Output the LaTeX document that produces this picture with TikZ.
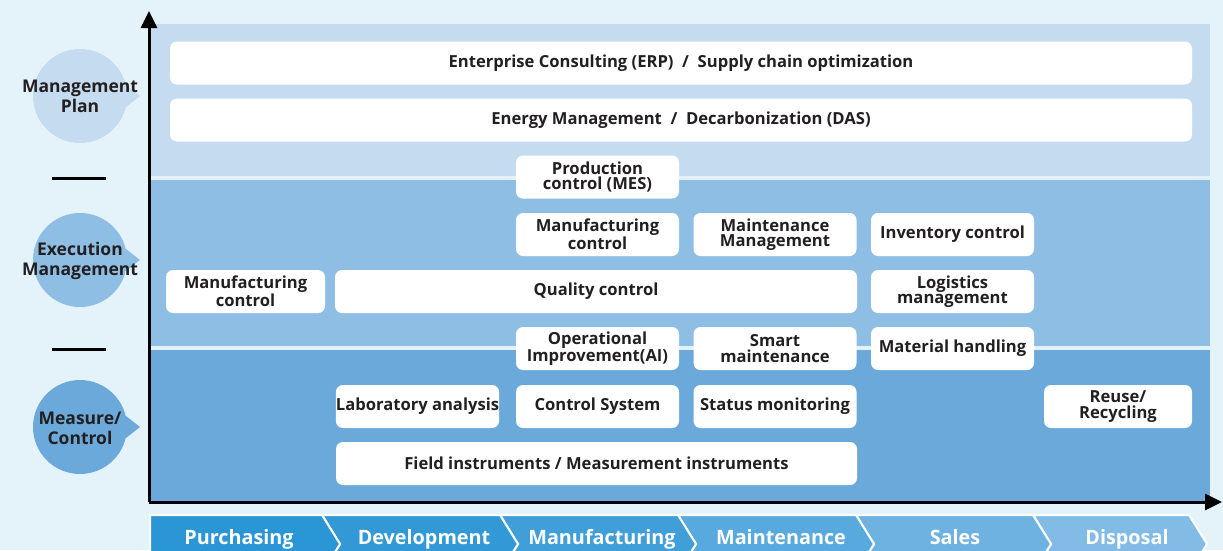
\documentclass[tikz,border=0pt]{standalone}
\usepackage{fontspec}
\setmainfont{Open Sans}
\usetikzlibrary{arrows.meta}

\definecolor{bgcol}{HTML}{E4F2FA}
\definecolor{plancol}{HTML}{C5DCF0}
\definecolor{execcol}{HTML}{8FBEE5}
\definecolor{meascol}{HTML}{6BA9DA}
\definecolor{sepcol}{HTML}{E3F1FA}
\definecolor{txtcol}{HTML}{231F20}
\definecolor{chevA}{HTML}{2B96D5}
\definecolor{chevB}{HTML}{3399D6}
\definecolor{chevC}{HTML}{409FD9}
\definecolor{chevD}{HTML}{58A9DD}
\definecolor{chevE}{HTML}{6EB2E1}
\definecolor{chevF}{HTML}{82BCE6}

\tikzset{
  box/.style={fill=white, rounded corners=7pt, minimum height=43pt, inner sep=0pt,
    align=center, text=txtcol, font=\bfseries\fontsize{16.6}{15.5}\selectfont},
  level/.style={align=center, text=txtcol, font=\bfseries\fontsize{17.5}{20}\selectfont},
  stage/.style={text=white, anchor=base, font=\bfseries\fontsize{19.8}{21}\selectfont},
  chev/.style={draw=white, line width=2pt}
}

\begin{document}
\begin{tikzpicture}[x=1pt, y=-1pt]
   \useasboundingbox (0,0) rectangle (1223,550);
   \clip (0,0) rectangle (1223,550);
   \fill[bgcol] (0,0) rectangle (1223,550);

   % three bands
   \fill[plancol] (150,24) rectangle (1210,176);
   \fill[execcol] (150,180) rectangle (1210,346);
   \fill[meascol] (150,350) rectangle (1210,502);
   \fill[sepcol] (150,176) rectangle (1210,180);
   \fill[sepcol] (150,346) rectangle (1210,350);

   % levels on the left
   \fill[plancol] (80,96) circle (47) (126,85) -- (140,96) -- (126,107) -- cycle;
   \node[level] (plan) at (80,96) {Management\\Plan};
   \draw[line width=3pt] (52,178) -- (106,178);
   \fill[execcol] (80,260) circle (47) (126,249) -- (140,260) -- (126,271) -- cycle;
   \node[level] (exec) at (80,261) {Execution\\Management};
   \draw[line width=3pt] (52,349) -- (106,349);
   \fill[meascol] (80,427) circle (47) (126,416) -- (140,427) -- (126,438) -- cycle;
   \node[level] (meas) at (80,428) {Measure/\\Control};

   % axes
   \coordinate (origin) at (149,502);
   \coordinate (ytip) at (149,11);
   \coordinate (xtip) at (1222,502);
   \draw[line width=3pt, -{Triangle[length=17pt,width=16pt]}] (origin) -- (ytip);
   \draw[line width=3pt, -{Triangle[length=17pt,width=16pt]}] (origin) -- (xtip);

   % management plan
   \node[box, minimum width=1022pt] (erp) at (681,63) {Enterprise Consulting (ERP)\ \ /\ \ Supply chain optimization};
   \node[box, minimum width=1022pt] (das) at (681,120) {Energy Management\ \ /\ \ Decarbonization (DAS)};

   % execution management
   \node[box, minimum width=163pt] (mes) at (597.5,177) {Production\\control (MES)};
   \node[box, minimum width=163pt] (mfg) at (597.5,234.5) {Manufacturing\\control};
   \node[box, minimum width=163pt] (maint) at (775,234.5) {Maintenance\\Management};
   \node[box, minimum width=163pt] (inv) at (952.5,234.5) {Inventory control};
   \node[box, minimum width=159pt] (mfgl) at (245.5,291.5) {Manufacturing\\control};
   \node[box, minimum width=522pt] (qc) at (596,291.5) {Quality control};
   \node[box, minimum width=163pt] (logi) at (952.5,291.5) {Logistics\\management};
   \node[box, minimum width=163pt] (opai) at (597.5,348.5) {Operational\\Improvement(AI)};
   \node[box, minimum width=163pt] (smart) at (775,348.5) {Smart\\maintenance};
   \node[box, minimum width=163pt] (mat) at (952.5,348.5) {Material handling};

   % measure / control
   \node[box, minimum width=163pt] (lab) at (417.5,406.5) {Laboratory analysis};
   \node[box, minimum width=163pt] (ctrl) at (597.5,406.5) {Control System};
   \node[box, minimum width=163pt] (stat) at (775,406.5) {Status monitoring};
   \node[box, minimum width=148pt] (reuse) at (1118,406.5) {Reuse/\\Recycling};
   \node[box, minimum width=521pt] (field) at (596.5,463.5) {Field instruments / Measurement instruments};

   % value chain
   \filldraw[chev, fill=chevF] (1033,515) -- (1189,515) -- (1207,544) -- (1189,573) -- (1033,573) -- (1051,544) -- cycle;
   \filldraw[chev, fill=chevE] (856,515) -- (1033,515) -- (1051,544) -- (1033,573) -- (856,573) -- (874,544) -- cycle;
   \filldraw[chev, fill=chevD] (678,515) -- (856,515) -- (874,544) -- (856,573) -- (678,573) -- (696,544) -- cycle;
   \filldraw[chev, fill=chevC] (500,515) -- (678,515) -- (696,544) -- (678,573) -- (500,573) -- (518,544) -- cycle;
   \filldraw[chev, fill=chevB] (322,515) -- (500,515) -- (518,544) -- (500,573) -- (322,573) -- (340,544) -- cycle;
   \filldraw[chev, fill=chevA] (150,515) -- (322,515) -- (340,544) -- (322,573) -- (150,573) -- cycle;
   \node[stage] (purch) at (239,544) {Purchasing};
   \node[stage] (dev) at (424,544) {Development};
   \node[stage] (manu) at (602,544) {Manufacturing};
   \node[stage] (mnt) at (781,544) {Maintenance};
   \node[stage] (sales) at (955,544) {Sales};
   \node[stage] (disp) at (1127,544) {Disposal};
\end{tikzpicture}
\end{document}
